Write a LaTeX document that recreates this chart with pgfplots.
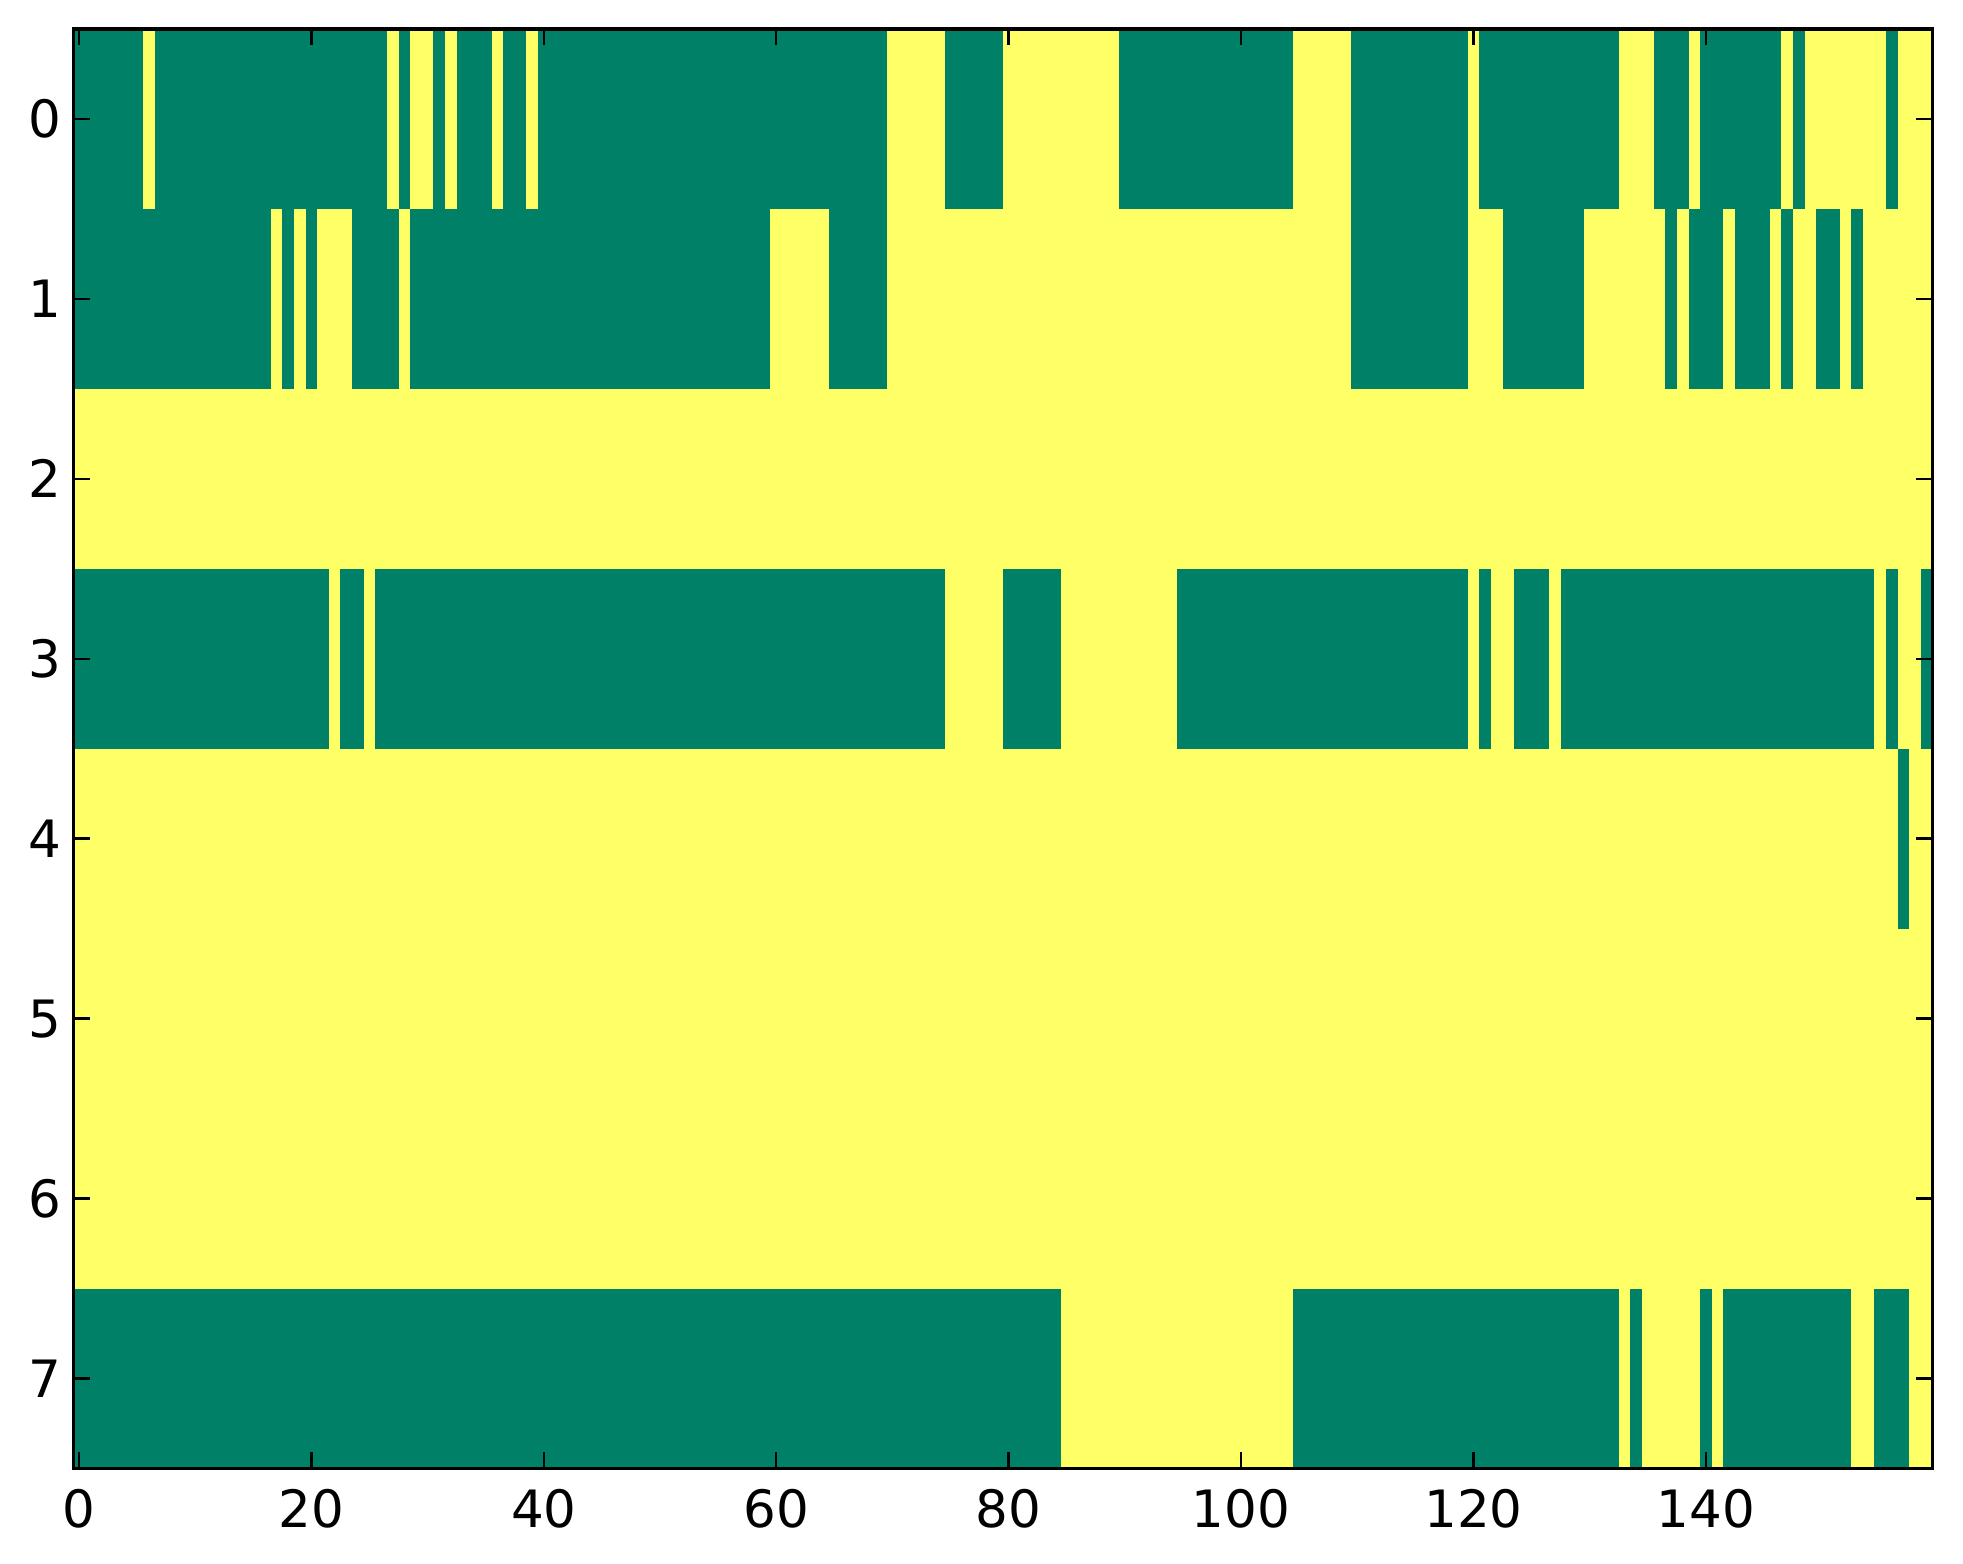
\documentclass[border=0pt]{standalone}
\usepackage{fontspec}
\setmainfont{DejaVu Sans}
\usepackage{pgfplots}
\pgfplotsset{compat=1.18}
\definecolor{smg}{RGB}{0,128,102}
\definecolor{smy}{RGB}{255,255,102}
% one green run of cells: x from #1 to #2, y from #3 to #4
\newcommand\run[4]{\addplot[draw=none, fill=smg, forget plot] coordinates {(#1,#3) (#2,#3) (#2,#4) (#1,#4)} -- cycle;}
\begin{document}
\begin{tikzpicture}
\begin{axis}[
  scale only axis,
  width=372pt, height=288pt,
  xmin=-0.5, xmax=159.5, ymin=-0.5, ymax=7.5,
  y dir=reverse,
  axis on top,
  axis background/.style={fill=smy},
  xtick={0,20,40,60,80,100,120,140},
  ytick={0,1,2,3,4,5,6,7},
  tick align=inside,
  major tick length=3.3pt,
  axis line style={line width=0.65pt},
  every tick/.style={black, line width=0.5pt},
  tick label style={font=\fontsize{10.3}{12}\selectfont},
  /pgf/number format/assume math mode=true,
  xticklabel style={yshift=-0.6pt},
  yticklabel style={xshift=1.2pt},
]
% row 0
\run{-0.5}{5.5}{-0.5}{0.5}
\run{6.5}{26.5}{-0.5}{0.5}
\run{27.5}{28.5}{-0.5}{0.5}
\run{30.5}{31.5}{-0.5}{0.5}
\run{32.5}{35.5}{-0.5}{0.5}
\run{36.5}{38.5}{-0.5}{0.5}
\run{39.5}{69.5}{-0.5}{0.5}
\run{74.5}{79.5}{-0.5}{0.5}
\run{89.5}{104.5}{-0.5}{0.5}
\run{109.5}{119.5}{-0.5}{0.5}
\run{120.5}{132.5}{-0.5}{0.5}
\run{135.5}{138.5}{-0.5}{0.5}
\run{139.5}{146.5}{-0.5}{0.5}
\run{147.5}{148.5}{-0.5}{0.5}
\run{155.5}{156.5}{-0.5}{0.5}
% row 1
\run{-0.5}{16.5}{0.5}{1.5}
\run{17.5}{18.5}{0.5}{1.5}
\run{19.5}{20.5}{0.5}{1.5}
\run{23.5}{27.5}{0.5}{1.5}
\run{28.5}{59.5}{0.5}{1.5}
\run{64.5}{69.5}{0.5}{1.5}
\run{109.5}{119.5}{0.5}{1.5}
\run{122.5}{129.5}{0.5}{1.5}
\run{136.5}{137.5}{0.5}{1.5}
\run{138.5}{141.5}{0.5}{1.5}
\run{142.5}{145.5}{0.5}{1.5}
\run{146.5}{147.5}{0.5}{1.5}
\run{149.5}{151.5}{0.5}{1.5}
\run{152.5}{153.5}{0.5}{1.5}
% row 3
\run{-0.5}{21.5}{2.5}{3.5}
\run{22.5}{24.5}{2.5}{3.5}
\run{25.5}{74.5}{2.5}{3.5}
\run{79.5}{84.5}{2.5}{3.5}
\run{94.5}{119.5}{2.5}{3.5}
\run{120.5}{121.5}{2.5}{3.5}
\run{123.5}{126.5}{2.5}{3.5}
\run{127.5}{154.5}{2.5}{3.5}
\run{155.5}{156.5}{2.5}{3.5}
\run{158.5}{159.5}{2.5}{3.5}
% row 4
\run{156.5}{157.5}{3.5}{4.5}
% row 7
\run{-0.5}{84.5}{6.5}{7.5}
\run{104.5}{132.5}{6.5}{7.5}
\run{133.5}{134.5}{6.5}{7.5}
\run{139.5}{140.5}{6.5}{7.5}
\run{141.5}{152.5}{6.5}{7.5}
\run{154.5}{157.5}{6.5}{7.5}
\end{axis}
\path ([xshift=-14.64pt,yshift=-19pt]current axis.south west) rectangle ([xshift=6.1pt,yshift=5.8pt]current axis.north east);
\end{tikzpicture}
\end{document}
